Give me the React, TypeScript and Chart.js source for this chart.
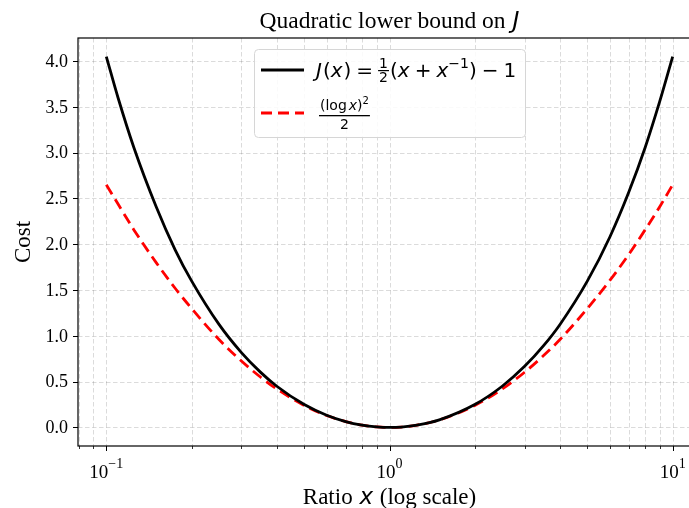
import React, { useEffect, useRef } from "react";
import { Chart, registerables } from "chart.js";

Chart.register(...registerables);

// ---- data ----
const ratioX = [0.1, 0.11, 0.125, 0.15, 0.175, 0.2, 0.25, 0.3, 0.35, 0.4, 0.5, 0.6, 0.7, 0.8, 0.9, 1, 1.1, 1.25, 1.5, 2, 2.5, 3, 3.5, 4, 5, 6, 7, 8, 9, 10];
const costJ = [4.05, 3.6, 3.06, 2.41, 1.94, 1.6, 1.125, 0.817, 0.604, 0.45, 0.25, 0.133, 0.064, 0.025, 0.0056, 0, 0.0045, 0.025, 0.083, 0.25, 0.45, 0.667, 0.893, 1.125, 1.6, 2.08, 2.57, 3.06, 3.56, 4.05];
const costLog = [2.65, 2.44, 2.16, 1.8, 1.52, 1.3, 0.96, 0.725, 0.551, 0.42, 0.24, 0.13, 0.064, 0.025, 0.0056, 0, 0.0045, 0.025, 0.082, 0.24, 0.42, 0.603, 0.785, 0.96, 1.3, 1.605, 1.89, 2.16, 2.41, 2.65];

const xMajorTicks = [0.1, 1, 10];
const xMajorExponents = ["\u22121", "0", "1"];
const xMinorTicks = [0.08, 0.09, 0.2, 0.3, 0.4, 0.5, 0.6, 0.7, 0.8, 0.9, 2, 3, 4, 5, 6, 7, 8, 9, 20];
const yTicks = [0, 0.5, 1, 1.5, 2, 2.5, 3, 3.5, 4];
const yTickLabels = ["0.0", "0.5", "1.0", "1.5", "2.0", "2.5", "3.0", "3.5", "4.0"];

const X_MIN = 0.07943;
const X_MAX = 12.589;
const Y_MIN = -0.2025;
const Y_MAX = 4.2525;

const SERIF = '"Liberation Serif", "Times New Roman", serif';
const SANS = '"DejaVu Sans", sans-serif';

type Run = { t: string; font: string; dy?: number; gap?: number };

function runsWidth(ctx: CanvasRenderingContext2D, runs: Run[]) {
  let w = 0;
  for (const r of runs) {
    ctx.font = r.font;
    w += ctx.measureText(r.t).width + (r.gap || 0);
  }
  return w;
}
function drawRuns(ctx: CanvasRenderingContext2D, x: number, y: number, runs: Run[]) {
  let cx = x;
  for (const r of runs) {
    ctx.font = r.font;
    ctx.fillText(r.t, cx, y + (r.dy || 0));
    cx += ctx.measureText(r.t).width + (r.gap || 0);
  }
  return cx;
}

const decorPlugin = {
  id: "decor",
  beforeDatasetsDraw(chart: any) {
    const { ctx, chartArea } = chart;
    const xs = chart.scales.x;
    const ys = chart.scales.y;
    ctx.save();
    ctx.beginPath();
    ctx.rect(chartArea.left, chartArea.top, chartArea.right - chartArea.left, chartArea.bottom - chartArea.top);
    ctx.clip();
    ctx.strokeStyle = "rgba(0,0,0,0.18)";
    ctx.lineWidth = 0.8;
    ctx.setLineDash([4.5, 2.5]);
    for (const v of [...xMinorTicks, ...xMajorTicks]) {
      const px = Math.round(xs.getPixelForValue(v)) + 0.5;
      ctx.beginPath();
      ctx.moveTo(px, chartArea.top);
      ctx.lineTo(px, chartArea.bottom);
      ctx.stroke();
    }
    for (const v of yTicks) {
      const py = Math.round(ys.getPixelForValue(v)) + 0.5;
      ctx.beginPath();
      ctx.moveTo(chartArea.left, py);
      ctx.lineTo(chartArea.right, py);
      ctx.stroke();
    }
    ctx.restore();
  },
  afterDatasetsDraw(chart: any) {
    const { ctx, chartArea } = chart;
    const xs = chart.scales.x;
    const ys = chart.scales.y;
    const L = chartArea.left, R = chartArea.right, T = chartArea.top, B = chartArea.bottom;
    ctx.save();
    // frame
    ctx.strokeStyle = "#000";
    ctx.lineWidth = 1.2;
    ctx.setLineDash([]);
    ctx.strokeRect(L, T, R - L, B - T);
    // ticks
    ctx.lineWidth = 1;
    for (const v of xMajorTicks) {
      const px = Math.round(xs.getPixelForValue(v)) + 0.5;
      ctx.beginPath(); ctx.moveTo(px, B); ctx.lineTo(px, B + 5); ctx.stroke();
    }
    ctx.lineWidth = 0.8;
    for (const v of xMinorTicks) {
      const px = Math.round(xs.getPixelForValue(v)) + 0.5;
      ctx.beginPath(); ctx.moveTo(px, B); ctx.lineTo(px, B + 3); ctx.stroke();
    }
    ctx.lineWidth = 1;
    for (const v of yTicks) {
      const py = Math.round(ys.getPixelForValue(v)) + 0.5;
      ctx.beginPath(); ctx.moveTo(L, py); ctx.lineTo(L - 5, py); ctx.stroke();
    }
    // y tick labels
    ctx.fillStyle = "#000";
    ctx.font = `18px ${SERIF}`;
    ctx.textAlign = "right";
    ctx.textBaseline = "middle";
    yTicks.forEach((v, i) => {
      ctx.fillText(yTickLabels[i], L - 10, ys.getPixelForValue(v) + 1);
    });
    // x tick labels 10^n
    ctx.textAlign = "left";
    ctx.textBaseline = "alphabetic";
    xMajorTicks.forEach((v, i) => {
      const runs: Run[] = [
        { t: "10", font: `19px ${SERIF}` },
        { t: xMajorExponents[i], font: `14px ${SERIF}`, dy: -10 },
      ];
      const w = runsWidth(ctx, runs);
      drawRuns(ctx, xs.getPixelForValue(v) - w / 2, B + 32, runs);
    });
    // x axis label
    const cx = (L + R) / 2;
    const xl: Run[] = [
      { t: "Ratio ", font: `23px ${SERIF}`, gap: 1 },
      { t: "x", font: `italic 23px ${SANS}`, gap: 1 },
      { t: " (log scale)", font: `23px ${SERIF}` },
    ];
    drawRuns(ctx, cx - runsWidth(ctx, xl) / 2, B + 58, xl);
    // y axis label
    ctx.save();
    ctx.translate(30, (T + B) / 2);
    ctx.rotate(-Math.PI / 2);
    ctx.font = `23px ${SERIF}`;
    ctx.textAlign = "center";
    ctx.fillText("Cost", 0, 0);
    ctx.restore();
    // title
    const tl: Run[] = [
      { t: "Quadratic lower bound on ", font: `23.5px ${SERIF}`, gap: 1 },
      { t: "J", font: `italic 23.5px ${SANS}` },
    ];
    ctx.textAlign = "left";
    drawRuns(ctx, cx - runsWidth(ctx, tl) / 2, T - 10, tl);

    // legend
    const bx = 254, by = 49, bw = 271, bh = 88;
    ctx.beginPath();
    ctx.roundRect(bx + 0.5, by + 0.5, bw, bh, 4);
    ctx.fillStyle = "rgba(255,255,255,0.85)";
    ctx.fill();
    ctx.strokeStyle = "#d6d6d6";
    ctx.lineWidth = 1;
    ctx.stroke();
    // sample lines
    ctx.lineWidth = 3;
    ctx.strokeStyle = "#000";
    ctx.beginPath(); ctx.moveTo(bx + 7, by + 21); ctx.lineTo(bx + 50, by + 21); ctx.stroke();
    ctx.strokeStyle = "#ff0000";
    ctx.setLineDash([11, 6]);
    ctx.beginPath(); ctx.moveTo(bx + 7, by + 64); ctx.lineTo(bx + 50, by + 64); ctx.stroke();
    ctx.setLineDash([]);
    // legend text 1
    ctx.fillStyle = "#000";
    const f = `20px ${SANS}`;
    const fi = `italic 20px ${SANS}`;
    const fs = `14px ${SANS}`;
    const tx = bx + 62;
    const ty = by + 28;
    let px = drawRuns(ctx, tx, ty, [
      { t: "J", font: fi, gap: 1 },
      { t: "(", font: f },
      { t: "x", font: fi, gap: 1 },
      { t: ")", font: f, gap: 5 },
      { t: "=", font: f, gap: 5 },
    ]);
    // fraction 1/2
    ctx.font = fs;
    const fw = ctx.measureText("1").width;
    ctx.fillText("1", px + 1, ty - 9);
    ctx.fillText("2", px + 1, ty + 5);
    ctx.fillRect(px, ty - 7, fw + 2, 1.2);
    px += fw + 3;
    px = drawRuns(ctx, px, ty, [
      { t: "(", font: f },
      { t: "x", font: fi, gap: 5 },
      { t: "+", font: f, gap: 5 },
      { t: "x", font: fi },
      { t: "\u22121", font: fs, dy: -9 },
      { t: ")", font: f, gap: 5 },
      { t: "\u2212", font: f, gap: 5 },
      { t: "1", font: f },
    ]);
    // legend text 2: (log x)^2 / 2
    const nf = `14px ${SANS}`;
    const nfi = `italic 14px ${SANS}`;
    const num: Run[] = [
      { t: "(log", font: nf, gap: 2 },
      { t: "x", font: nfi },
      { t: ")", font: nf },
      { t: "2", font: `10px ${SANS}`, dy: -6 },
    ];
    const nw = runsWidth(ctx, num);
    const nx = bx + 66;
    drawRuns(ctx, nx, by + 61, num);
    ctx.fillRect(nx - 1, by + 66, nw + 2, 1.3);
    ctx.font = nf;
    ctx.textAlign = "center";
    ctx.fillText("2", nx + nw / 2, by + 80);
    ctx.restore();
  },
};

export default function App() {
  const ref = useRef<HTMLCanvasElement | null>(null);
  useEffect(() => {
    if (!ref.current) return;
    const chart = new Chart(ref.current, {
      type: "line",
      data: {
        datasets: [
          {
            label: "J(x)",
            data: ratioX.map((x, i) => ({ x, y: costJ[i] })),
            borderColor: "#000000",
            borderWidth: 2.8,
            pointRadius: 0,
            cubicInterpolationMode: "monotone",
            fill: false,
          },
          {
            label: "(log x)^2/2",
            data: ratioX.map((x, i) => ({ x, y: costLog[i] })),
            borderColor: "#ff0000",
            borderWidth: 2.8,
            borderDash: [11, 6],
            pointRadius: 0,
            cubicInterpolationMode: "monotone",
            fill: false,
          },
        ],
      },
      options: {
        animation: false,
        responsive: false,
        devicePixelRatio: 1,
        layout: { padding: { left: 78, top: 38, right: 19, bottom: 62 } },
        plugins: { legend: { display: false }, title: { display: false }, tooltip: { enabled: false } },
        scales: {
          x: { type: "logarithmic", min: X_MIN, max: X_MAX, display: false },
          y: { type: "linear", min: Y_MIN, max: Y_MAX, display: false },
        },
      },
      plugins: [decorPlugin],
    } as any);
    return () => chart.destroy();
  }, []);
  return (
    <div style={{ position: "absolute", left: 0, top: 0, width: 689, height: 508, overflow: "hidden", background: "#fff" }}>
      <canvas ref={ref} width={720} height={508} style={{ width: 720, height: 508, display: "block" }} />
    </div>
  );
}
